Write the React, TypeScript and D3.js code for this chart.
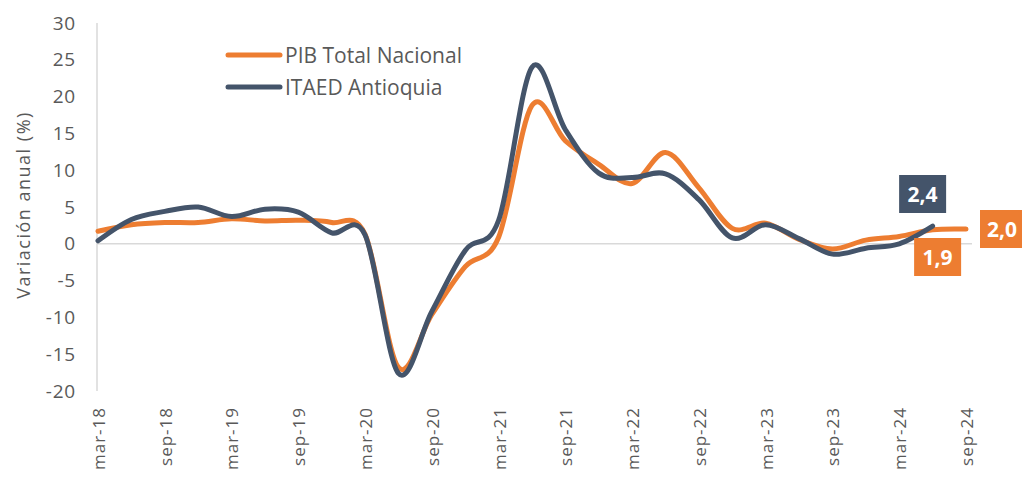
import { useMemo } from "react";
import * as d3 from "d3";

const quarters = [
  "mar-18", "jun-18", "sep-18", "dec-18",
  "mar-19", "jun-19", "sep-19", "dec-19",
  "mar-20", "jun-20", "sep-20", "dec-20",
  "mar-21", "jun-21", "sep-21", "dec-21",
  "mar-22", "jun-22", "sep-22", "dec-22",
  "mar-23", "jun-23", "sep-23", "dec-23",
  "mar-24", "jun-24", "sep-24",
];

const pibNacional = [
  1.7, 2.6, 2.9, 2.9, 3.4, 3.1, 3.2, 2.9, 1.3, -16.8, -9.6, -3.1, 0.9, 18.8,
  14.0, 10.8, 8.2, 12.4, 7.6, 2.1, 2.8, 0.6, -0.7, 0.5, 1.0, 1.9, 2.0,
];

const itaedAntioquia = [
  0.4, 3.3, 4.4, 5.0, 3.7, 4.7, 4.3, 1.5, 1.2, -17.6, -9.2, -0.9, 3.2, 24.0,
  15.5, 9.6, 9.0, 9.5, 6.0, 0.8, 2.6, 0.7, -1.4, -0.6, 0.0, 2.4,
];

const yTicks = [30, 25, 20, 15, 10, 5, 0, -5, -10, -15, -20];

const ORANGE = "#ED7D31";
const SLATE = "#44546A";
const TEXT = "#595959";
const FONT = "'Open Sans', 'Noto Sans', sans-serif";

const W = 1022;
const H = 477;

export default function App() {
  const x = useMemo(
    () => d3.scalePoint<string>().domain(quarters).range([98, 966]),
    [],
  );
  const y = useMemo(
    () => d3.scaleLinear().domain([-20, 30]).range([391, 23]),
    [],
  );

  // smoothed line, close to the spreadsheet look
  const line = d3
    .line<number>()
    .x((_, i) => x(quarters[i]) as number)
    .y((d) => y(d))
    .curve(d3.curveCatmullRom.alpha(0));

  const xLabels = quarters.filter((q) => q.startsWith("mar") || q.startsWith("sep"));

  const lastPib = pibNacional.length - 1;
  const lastItaed = itaedAntioquia.length - 1;
  const fmt = (v: number) => v.toFixed(1).replace(".", ",");

  return (
    <svg
      width={W}
      height={H}
      style={{ position: "absolute", left: 0, top: 0, background: "#fff" }}
      fontFamily={FONT}
    >
      {/* y axis line + zero line */}
      <line x1={97} x2={97} y1={y(30)} y2={y(-20)} stroke="#d9d9d9" strokeWidth={1.5} />
      <line x1={97} x2={972} y1={y(0)} y2={y(0)} stroke="#d9d9d9" strokeWidth={1.5} />

      {yTicks.map((t) => (
        <text
          key={t}
          x={76}
          y={y(t)}
          dy="0.35em"
          textAnchor="end"
          fontSize={19}
          letterSpacing={0.8}
          fill={TEXT}
        >
          {t}
        </text>
      ))}

      <text
        transform={`translate(24,${(y(30) + y(-20)) / 2 - 2}) rotate(-90)`}
        textAnchor="middle"
        dy="0.35em"
        fontSize={18}
        letterSpacing={1.5}
        fill={TEXT}
      >
        Variación anual (%)
      </text>

      {xLabels.map((q) => (
        <text
          key={q}
          transform={`translate(${(x(q) as number) + 1},407) rotate(-90)`}
          textAnchor="end"
          dy="0.35em"
          fontSize={17}
          letterSpacing={1}
          fill={TEXT}
        >
          {q}
        </text>
      ))}

      <path d={line(pibNacional) ?? ""} fill="none" stroke={ORANGE} strokeWidth={5} strokeLinecap="round" />
      <path d={line(itaedAntioquia) ?? ""} fill="none" stroke={SLATE} strokeWidth={5} strokeLinecap="round" />

      {/* legend */}
      <line x1={228} x2={280} y1={55} y2={55} stroke={ORANGE} strokeWidth={5} strokeLinecap="round" />
      <text x={285} y={55} dy="0.36em" fontSize={21} fill={TEXT}>
        PIB Total Nacional
      </text>
      <line x1={228} x2={280} y1={87} y2={87} stroke={SLATE} strokeWidth={5} strokeLinecap="round" />
      <text x={285} y={87} dy="0.36em" fontSize={21} fill={TEXT}>
        ITAED Antioquia
      </text>

      {/* data labels */}
      {[
        { v: itaedAntioquia[lastItaed], cx: (x(quarters[lastItaed]) as number) - 10, cy: 194, w: 47, fill: SLATE },
        { v: pibNacional[lastPib - 1], cx: (x(quarters[lastPib - 1]) as number) + 5, cy: 257, w: 47, fill: ORANGE },
        { v: pibNacional[lastPib], cx: 1002, cy: 229, w: 44, fill: ORANGE },
      ].map((l, i) => (
        <g key={i}>
          <rect x={l.cx - l.w / 2} y={l.cy - 19} width={l.w} height={38} fill={l.fill} />
          <text
            x={l.cx}
            y={l.cy}
            dy="0.36em"
            textAnchor="middle"
            fontSize={21}
            fontWeight="bold"
            fill="#fff"
          >
            {fmt(l.v)}
          </text>
        </g>
      ))}
    </svg>
  );
}
